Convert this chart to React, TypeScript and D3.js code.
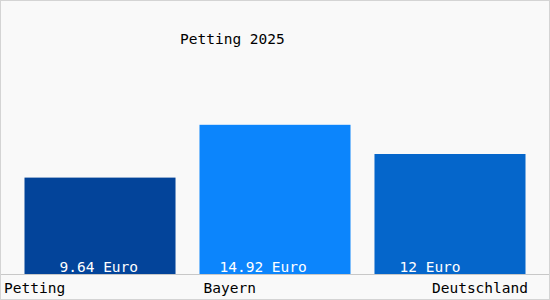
import * as d3 from 'd3';
import React from 'react';

const categories = ['Petting', 'Bayern', 'Deutschland'];
const values = [9.64, 14.92, 12];
const valueLabels = ['9.64 Euro', '14.92 Euro', '12 Euro'];
const title = 'Petting 2025';

const colors = ['#03449a', '#0c85fc', '#0566cb'];
// where the value text starts inside each bar
const labelShift = [35, 20, 25];

const width = 550;
const height = 300;
const baseY = 274;

export default function App() {
    const x = d3.scaleBand()
        .domain(categories)
        .range([0, width])
        .paddingInner(0.137)
        .paddingOuter(0.14);
    const y = d3.scaleLinear().domain([0, 25]).range([baseY, baseY - 250]);

    const font = "'DejaVu Sans Mono', monospace";

    return (
        <div style={{ position: 'absolute', left: 0, top: 0 }}>
            <svg width={width} height={height} style={{ display: 'block' }}>
                <rect x={0.5} y={0.5} width={width - 1} height={height - 1} fill="#f9f9f9" stroke="#d4d4d4" />
                <text x={180} y={44} fontFamily={font} fontSize={14.5} fill="#000">{title}</text>
                {categories.map((c, i) => (
                    <rect key={c} x={x(c)} y={y(values[i])} width={x.bandwidth()}
                        height={baseY - y(values[i])} fill={colors[i]} />
                ))}
                <line x1={1} x2={width - 1} y1={baseY + 0.5} y2={baseY + 0.5} stroke="#c8c8c8" />
                {categories.map((c, i) => (
                    <text key={'v' + c} x={(x(c) as number) + labelShift[i]} y={272}
                        fontFamily={font} fontSize={14.5} fill="#fff">{valueLabels[i]}</text>
                ))}
                {categories.map((c, i) => {
                    const anchor = i === 0 ? 'start' : i === categories.length - 1 ? 'end' : 'start';
                    const tx = i === 0 ? 4 : i === categories.length - 1 ? 528 : (x(c) as number) + 4;
                    return (
                        <text key={'c' + c} x={tx} y={293} textAnchor={anchor}
                            fontFamily={font} fontSize={14.5} fill="#000">{c}</text>
                    );
                })}
            </svg>
        </div>
    );
}
